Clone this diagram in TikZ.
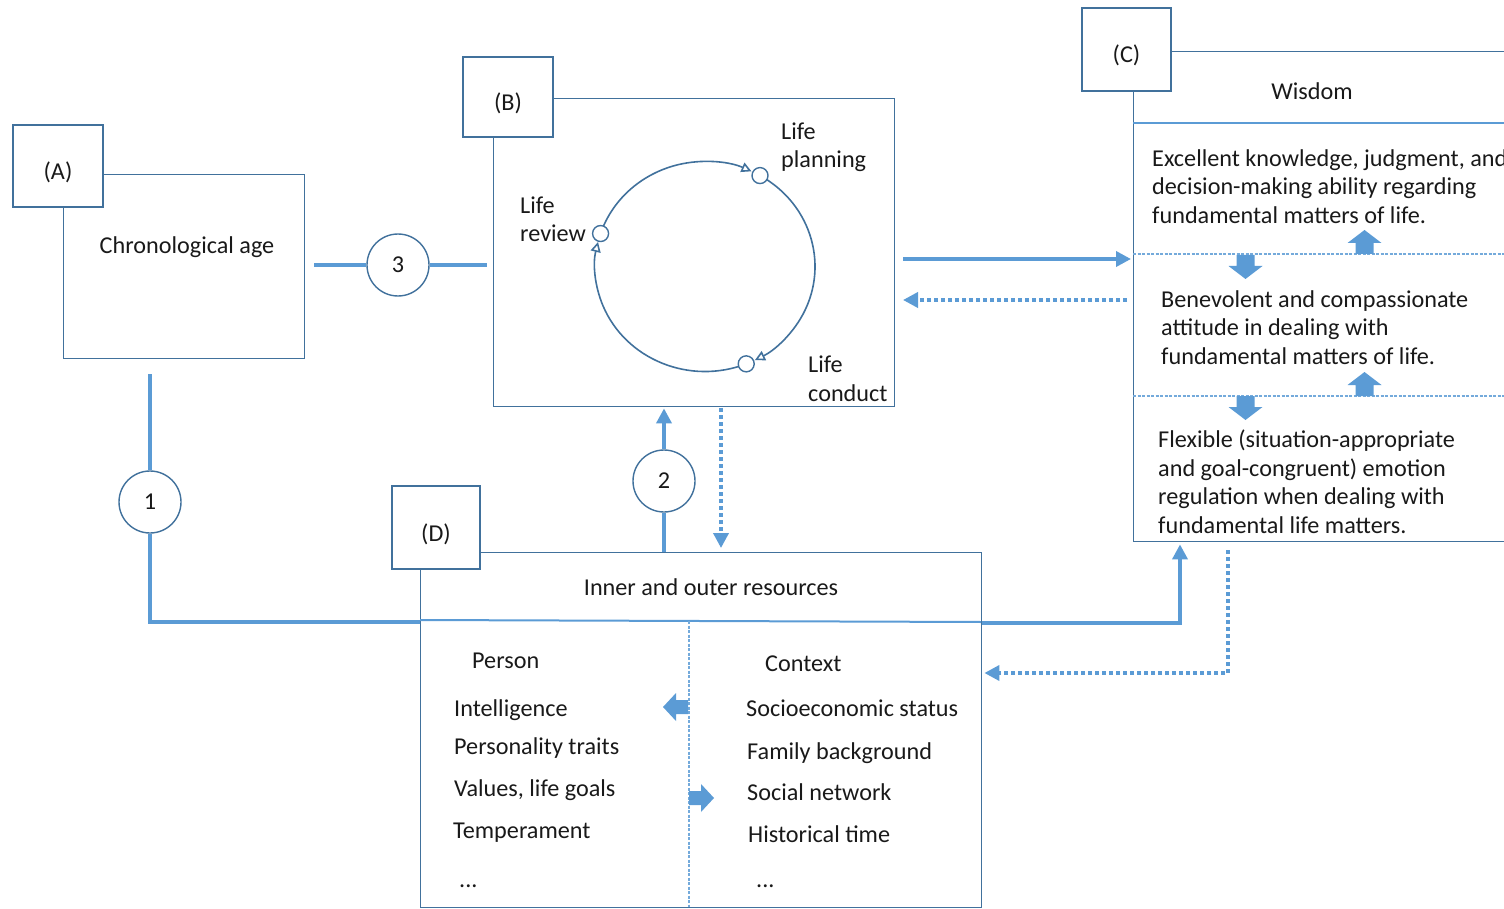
\documentclass[tikz,border=0pt]{standalone}
\usepackage{fontspec}
\setmainfont{Carlito}
\usetikzlibrary{arrows.meta}
\definecolor{boxline}{RGB}{65,113,156}
\definecolor{conn}{RGB}{91,155,213}
\definecolor{ink}{RGB}{25,25,25}
\tikzset{
  pics/bigarrow/.style={code={\fill[conn] (0,0) -- (-13,-17) -- (-13,-9) -- (-24,-9) -- (-24,9) -- (-13,9) -- (-13,17) -- cycle;}},
  pics/smallarrow/.style={code={\fill[conn] (0,0) -- (-13,-14) -- (-13,-7) -- (-25,-7) -- (-25,7) -- (-13,7) -- (-13,14) -- cycle;}}
}
\begin{document}
\begin{tikzpicture}[x=1pt,y=-1pt,
  every node/.style={font=\fontsize{24.2}{28.6}\selectfont, text=ink, inner sep=0pt},
  mainbox/.style={draw=boxline, line width=1.4pt, rectangle, anchor=north west},
  lblbox/.style={draw=boxline, line width=1.4pt, fill=white, rectangle, text height=27pt, text depth=0pt},
  num/.style={draw=boxline, line width=1.4pt, circle, fill=white, minimum size=62pt, text height=15pt, text depth=0pt},
  txt/.style={anchor=base west, align=left},
  ctxt/.style={anchor=base},
  connline/.style={draw=conn, line width=3.6pt},
  dotconn/.style={draw=conn, line width=3.6pt, dash pattern=on 4pt off 3pt},
  tipa/.style={-{Triangle[length=15pt,width=15pt]}},
  port/.style={circle, draw=boxline, line width=1.4pt, fill=white, minimum size=16pt},
  cyclearc/.style={draw=boxline, line width=1.6pt, -{Triangle[open,length=10pt,width=10pt]}},
  sepline/.style={draw=conn, line width=2pt},
  dotsep/.style={draw=conn!85, line width=1.3pt, dash pattern=on 3pt off 1.5pt}
]
\useasboundingbox (0,0) rectangle (1504,909);

% ---------- main boxes ----------
\node[mainbox, minimum width=241pt, minimum height=184pt] (A) at (63,174) {};
\node[mainbox, minimum width=401pt, minimum height=308pt] (B) at (493,98) {};
\node[mainbox, minimum width=500pt, minimum height=490pt] (C) at (1133,51) {};
\node[mainbox, minimum width=561pt, minimum height=355pt] (D) at (420,552) {};

% ---------- label boxes ----------
\node[lblbox, minimum width=90pt, minimum height=82pt] (Al) at (58,166) {(A)};
\node[lblbox, minimum width=90pt, minimum height=80pt] (Bl) at (508,97) {(B)};
\node[lblbox, minimum width=89pt, minimum height=83pt] (Cl) at (1126.5,49.5) {(C)};
\node[lblbox, minimum width=88pt, minimum height=83pt] (Dl) at (436,527.5) {(D)};

% ---------- box A ----------
\node[ctxt] (agetxt) at (187,253.5) {Chronological age};

% ---------- box C ----------
\draw[sepline] (1133,123) -- (1640,123);
\draw[dotsep] (1133,254) -- (1640,254);
\draw[dotsep] (1133,396) -- (1640,396);
\node[ctxt] (wis) at (1312,99.5) {Wisdom};
\node[txt] (c1) at (1152,223.5) {Excellent knowledge, judgment, and\\decision-making ability regarding\\fundamental matters of life.};
\node[txt] (c2) at (1161,364.5) {Benevolent and compassionate\\attitude in dealing with\\fundamental matters of life.};
\node[txt] (c3) at (1158,533.5) {Flexible (situation-appropriate\\and goal-congruent) emotion\\regulation when dealing with\\fundamental life matters.};
\pic[rotate=90] at (1364.5,230) {bigarrow};
\pic[rotate=-90] at (1245.5,279) {bigarrow};
\pic[rotate=90] at (1364.5,372) {bigarrow};
\pic[rotate=-90] at (1245.5,420) {bigarrow};

% ---------- box D ----------
\draw[sepline] (420,620) -- (981,622);
\draw[dotsep] (689,621) -- (689,907);
\node[ctxt] (res) at (711,595) {Inner and outer resources};
\node[txt] (pers) at (472,668) {Person};
\node[txt] (p1) at (454,716) {Intelligence};
\node[txt] (p2) at (454,754) {Personality traits};
\node[txt] (p3) at (454,796) {Values, life goals};
\node[txt] (p4) at (453,838) {Temperament};
\node[txt] (p5) at (459,887) {...};
\node[txt] (ctx) at (765,671) {Context};
\node[txt] (q1) at (746,716) {Socioeconomic status};
\node[txt] (q2) at (747,759) {Family background};
\node[txt] (q3) at (747,800) {Social network};
\node[txt] (q4) at (748,842) {Historical time};
\node[txt] (q5) at (756,887) {...};
\pic[rotate=180] at (663,707) {smallarrow};
\pic at (714,798) {smallarrow};

% ---------- box B : cycle ----------
\coordinate (cyc) at (705,266.5);
\draw[cyclearc] ([shift={(-161.7:110 and 105)}]cyc) arc[start angle=-161.7, end angle=-65, x radius=110, y radius=105];
\draw[cyclearc] ([shift={(-60:110 and 105)}]cyc) arc[start angle=-60, end angle=63, x radius=110, y radius=105];
\draw[cyclearc] ([shift={(68:110 and 105)}]cyc) arc[start angle=68, end angle=193.5, x radius=110, y radius=105];
\node[port] (pplan) at ([shift={(-60:110 and 105)}]cyc) {};
\node[port] (prev) at ([shift={(-161.7:110 and 105)}]cyc) {};
\node[port] (pcon) at ([shift={(68:110 and 105)}]cyc) {};
\node[txt] (lplan) at (781,168) {Life\\planning};
\node[txt] (lrev) at (520,242) {Life\\review};
\node[txt] (lcon) at (808,401.5) {Life\\conduct};

% ---------- numbered circles ----------
\node[num] (n3) at (398,265) {3};
\node[num] (n1) at (150,502) {1};
\node[num] (n2) at (664,481) {2};

% ---------- connectors ----------
\coordinate (a3) at (314,265);
\coordinate (b3) at (487,265);
\draw[connline] (a3) -- (n3);
\draw[connline] (n3) -- (b3);

\coordinate (a1) at (150,374);
\coordinate (dL) at (420,622);
\draw[connline] (a1) -- (n1);
\draw[connline] (n1) -- (n1 |- dL) -- (dL);

\draw[connline] (n2 |- D.north) -- (n2);
\draw[connline, tipa, shorten >=1pt] (n2) -- (n2 |- B.south);

\coordinate (bd) at (721,408);
\draw[dotconn, tipa, shorten >=4pt] (bd) -- (bd |- D.north);

\coordinate (bc) at (903,259);
\draw[connline, tipa, shorten >=2pt] (bc) -- (C.north west |- bc);
\coordinate (cb1) at (1127,300);
\coordinate (cb2) at (903,300);
\draw[dotconn, tipa] (cb1) -- (cb2);

\coordinate (cx) at (1180,623);
\draw[connline, tipa, shorten >=2pt] (D.east |- cx) -- (cx) -- (cx |- C.south);

\coordinate (cd) at (1228,550);
\coordinate (cdc) at (1228,673);
\draw[dotconn, tipa, shorten >=2pt] (cd) -- (cdc) -- (D.east |- cdc);
\end{tikzpicture}
\end{document}
